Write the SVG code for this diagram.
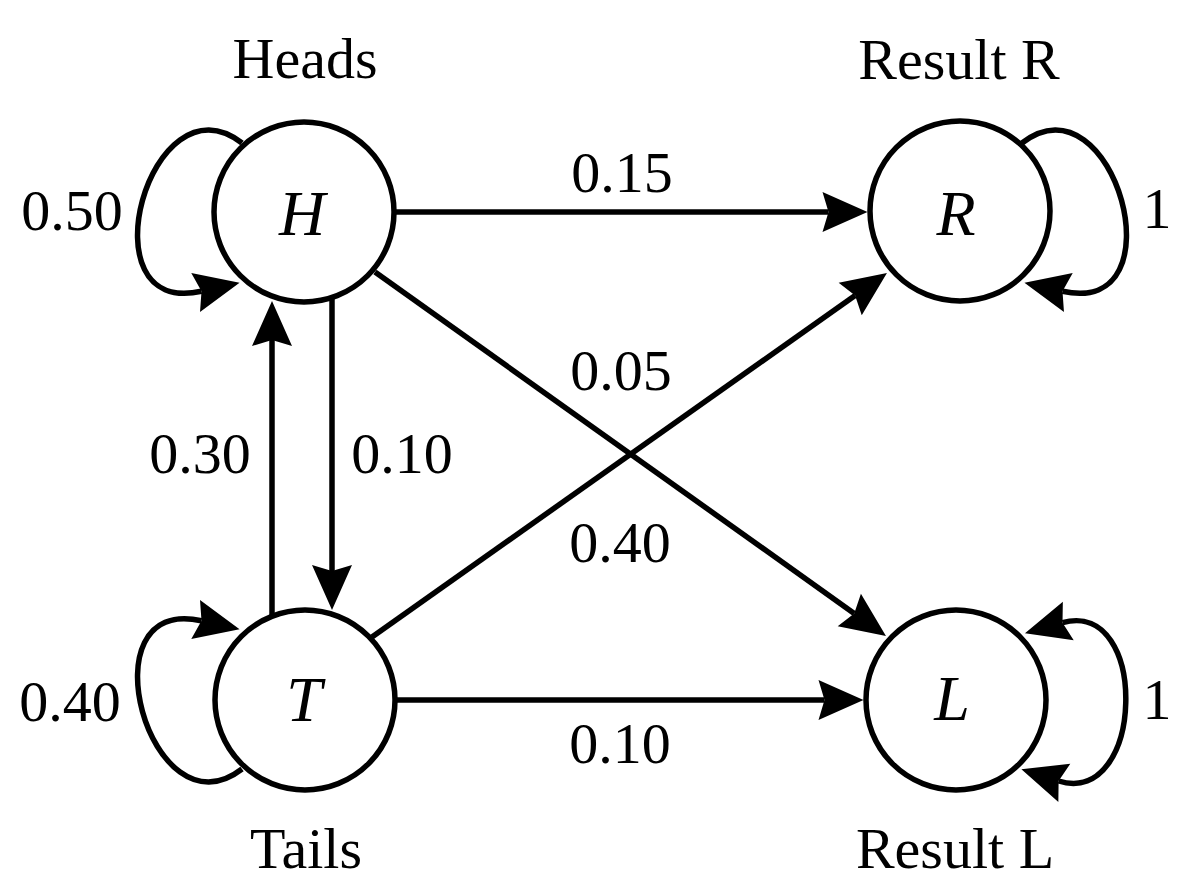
<svg xmlns="http://www.w3.org/2000/svg" width="1200" height="896" viewBox="0 0 1200 896" font-family="Liberation Serif, Times New Roman, serif">
  <style>
    .edge { fill: none; stroke: #000; stroke-width: 5.5; marker-end: url(#arrow); }
    .node { fill: #fff; stroke: #000; stroke-width: 5.5; }
    .lbl { font-family: 'Liberation Serif', 'Times New Roman', serif; font-size: 58px; fill: #000; text-anchor: middle; }
    .sym { font-family: 'Liberation Serif', 'Times New Roman', serif; font-size: 64px; font-style: italic; fill: #000; text-anchor: middle; }
  </style>
  <defs>
    <marker id="arrow" markerUnits="userSpaceOnUse" markerWidth="46" markerHeight="41" refX="6" refY="20" orient="auto-start-reverse" overflow="visible">
      <path d="M0,0 L45,20 L0,40 L6,20 Z" fill="#000"/>
    </marker>
  </defs>
  <rect width="1200" height="896" fill="#fff"/>

  <g id="connectors">
    <path class="edge" d="M394,212 L828.5,212"/>
    <path class="edge" d="M395,700 L824.5,700"/>
    <path class="edge" d="M332,297.5 L332,571"/>
    <path class="edge" d="M272,616 L272,340"/>
    <path class="edge" d="M375,272 L854.2,613.4"/>
    <path class="edge" d="M372,637 L855.1,295.5"/>
    <path class="edge" d="M242,143 C150,72 82,318 201.5,291.2"/>
    <path class="edge" d="M242,769 C150,840 82,594 201.5,620.8"/>
    <path class="edge" d="M1022,143 C1114,72 1182,318 1062.5,291.2"/>
    <path class="edge" style="marker-start: url(#arrow)" d="M1062.5,622.7 C1150,598 1145,808 1058.6,781"/>

    <text class="lbl" x="622" y="192">0.15</text>
    <text class="lbl" x="621" y="390">0.05</text>
    <text class="lbl" x="620" y="562">0.40</text>
    <text class="lbl" x="620" y="763">0.10</text>
    <text class="lbl" x="200" y="473">0.30</text>
    <text class="lbl" x="402" y="473">0.10</text>
    <text class="lbl" x="72" y="230">0.50</text>
    <text class="lbl" x="70" y="721">0.40</text>
    <text class="lbl" x="1157" y="228">1</text>
    <text class="lbl" x="1157" y="719">1</text>
  </g>

  <g id="node-H">
    <circle class="node" cx="304" cy="212" r="90"/>
    <text class="sym" x="302" y="235">H</text>
    <text class="lbl" x="305" y="78">Heads</text>
  </g>
  <g id="node-R">
    <circle class="node" cx="960" cy="211" r="90"/>
    <text class="sym" x="956" y="235">R</text>
    <text class="lbl" x="959" y="79">Result R</text>
  </g>
  <g id="node-T">
    <circle class="node" cx="305" cy="700" r="90"/>
    <text class="sym" x="304" y="721">T</text>
    <text class="lbl" x="306" y="868">Tails</text>
  </g>
  <g id="node-L">
    <circle class="node" cx="956" cy="700" r="90"/>
    <text class="sym" x="952" y="720">L</text>
    <text class="lbl" x="955" y="868">Result L</text>
  </g>
</svg>
